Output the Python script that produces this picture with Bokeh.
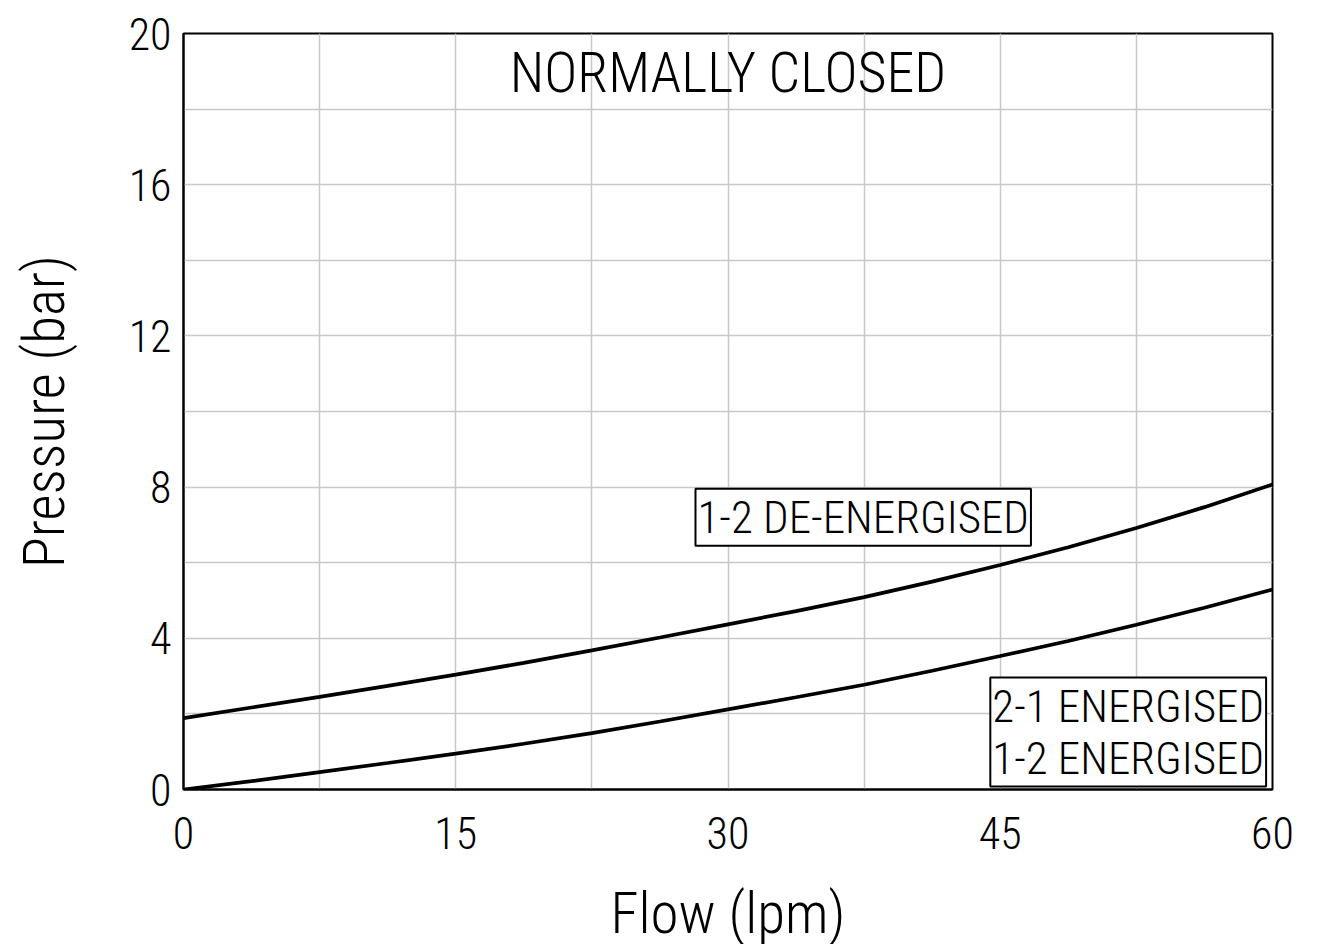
from bokeh.plotting import figure
from bokeh.models import Label, FixedTicker
from bokeh.embed import file_html
from bokeh.resources import INLINE

flow = [0, 3.75, 7.5, 11.25, 15, 18.75, 22.5, 26.25, 30, 33.75, 37.5, 41.25, 45, 48.75, 52.5, 56.25, 60]
de_energised = [1.89, 2.17, 2.45, 2.74, 3.04, 3.35, 3.68, 4.02, 4.37, 4.72, 5.09, 5.50, 5.94, 6.41, 6.92, 7.47, 8.07]
energised = [0.0, 0.22, 0.46, 0.70, 0.95, 1.21, 1.49, 1.80, 2.12, 2.44, 2.77, 3.14, 3.53, 3.93, 4.36, 4.81, 5.29]
x_ticks = [0, 15, 30, 45, 60]
y_ticks = [0, 4, 8, 12, 16, 20]
x_grid = [0, 7.5, 15, 22.5, 30, 37.5, 45, 52.5, 60]
y_grid = [0, 2, 4, 6, 8, 10, 12, 14, 16, 18, 20]

FONT = "'Roboto Condensed Light', 'Roboto Condensed', 'DejaVu Sans Condensed', Roboto, sans-serif"

p = figure(frame_width=1089, frame_height=756, x_range=(0, 60), y_range=(0, 20),
           output_backend="svg", toolbar_location=None,
           min_border_left=183, min_border_top=33, min_border_bottom=140, min_border_right=48)
p.background_fill_color = "white"
p.outline_line_color = "black"
p.outline_line_width = 2

p.xgrid.ticker = FixedTicker(ticks=x_grid)
p.ygrid.ticker = FixedTicker(ticks=y_grid)
for g in (p.xgrid, p.ygrid):
    g.grid_line_color = "#c8c8c8"
    g.grid_line_width = 1.5

p.xaxis.ticker = FixedTicker(ticks=x_ticks)
p.yaxis.ticker = FixedTicker(ticks=y_ticks)
for ax in (p.xaxis, p.yaxis):
    ax.axis_line_color = "black"
    ax.axis_line_width = 2
    ax.major_tick_out = 0
    ax.major_tick_in = 0
    ax.minor_tick_out = 0
    ax.minor_tick_in = 0
    ax.major_label_text_font = FONT
    ax.major_label_text_font_size = "44px"
    ax.major_label_text_color = "black"
    ax.axis_label_text_font = FONT
    ax.axis_label_text_font_size = "57px"
    ax.axis_label_text_font_style = "normal"
    ax.axis_label_text_color = "black"

p.xaxis.axis_label = "Flow (lpm)"
p.yaxis.axis_label = "Pressure (bar)"
p.xaxis.major_label_standoff = 27
p.yaxis.major_label_standoff = 12
p.xaxis.axis_label_standoff = 28
p.yaxis.axis_label_standoff = 48

p.line(flow, de_energised, line_color="black", line_width=3.7)
p.line(flow, energised, line_color="black", line_width=3.7)

p.add_layout(Label(x=30, y=18.95, text="NORMALLY CLOSED", text_font=FONT,
                   text_font_size="56px", text_align="center", text_baseline="middle",
                   text_color="black"))
p.add_layout(Label(x=37.45, y=7.2, text="1-2 DE-ENERGISED", text_font=FONT,
                   text_font_size="45px", text_align="center", text_baseline="middle",
                   text_color="black", background_fill_color="white",
                   border_line_color="black", border_line_width=2, padding=2))
p.add_layout(Label(x=52.05, y=1.52, text="2-1 ENERGISED\n1-2 ENERGISED", text_font=FONT,
                   text_font_size="45px", text_align="center", text_baseline="middle",
                   text_line_height=0.98,
                   text_color="black", background_fill_color="white",
                   border_line_color="black", border_line_width=2, padding=2))

open("out.html", "w").write(file_html(p, INLINE))
